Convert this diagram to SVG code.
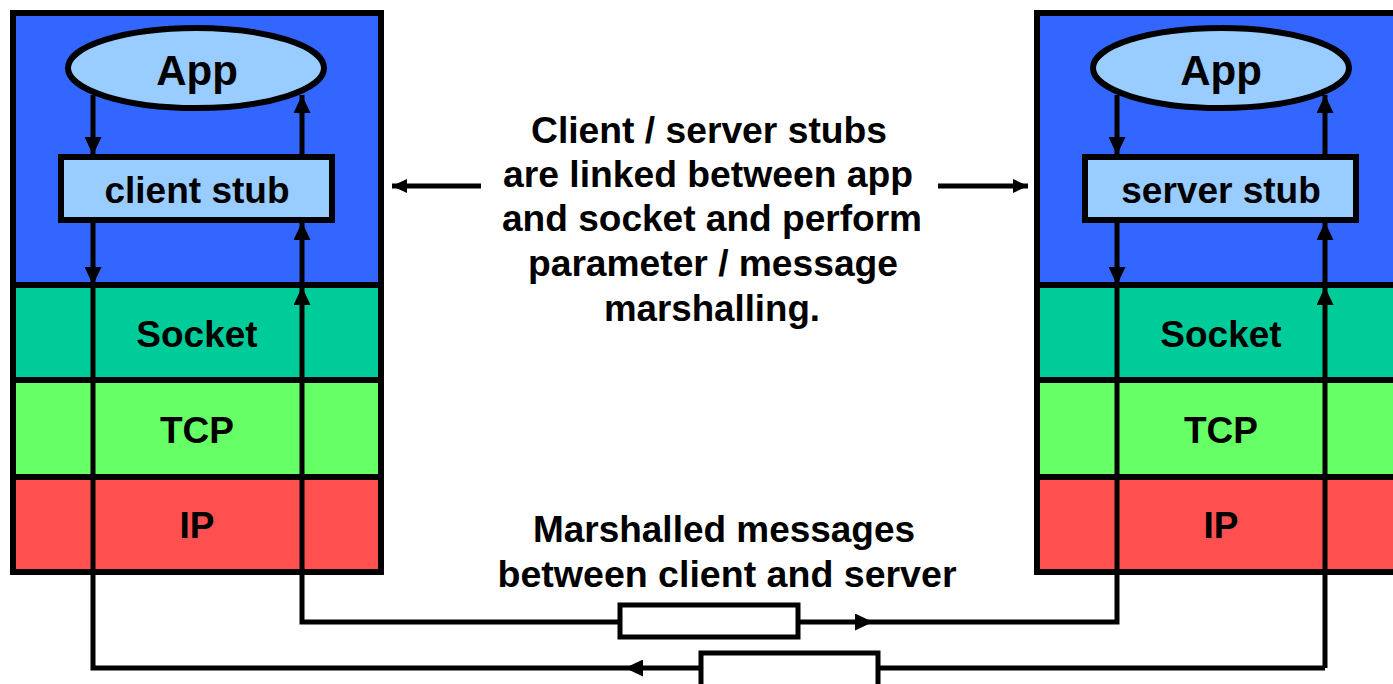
<svg xmlns="http://www.w3.org/2000/svg" width="1393" height="684" viewBox="0 0 1393 684">
  <style>
    .frame { stroke: #000; stroke-width: 6; }
    .box { fill: #99CCFF; stroke: #000; stroke-width: 6; }
    .lbl { font-family: "Liberation Sans", Arial, sans-serif; font-weight: bold; fill: #000; text-anchor: middle; }
    .wire { fill: none; stroke: #000; stroke-width: 5; }
    .pkt { fill: #fff; stroke: #000; stroke-width: 5; }
  </style>
  <defs>
    <marker id="arrow" viewBox="0 0 18 17" refX="18" refY="8.5" markerWidth="18" markerHeight="17" markerUnits="userSpaceOnUse" orient="auto">
      <path d="M0,0 L18,8.5 L0,17 Z" fill="#000"/>
    </marker>
    <marker id="pointer" viewBox="0 0 15 14" refX="15" refY="7" markerWidth="15" markerHeight="14" markerUnits="userSpaceOnUse" orient="auto">
      <path d="M0,0 L15,7 L0,14 Z" fill="#000"/>
    </marker>
  </defs>

  <rect width="1393" height="684" fill="#fff"/>

  <!-- client protocol stack -->
  <g id="client-stack">
    <rect x="13" y="13" width="368" height="272" fill="#3366FF" class="frame"/>
    <rect x="13" y="285" width="368" height="95" fill="#00CC99" class="frame"/>
    <rect x="13" y="380" width="368" height="97" fill="#66FF66" class="frame"/>
    <rect x="13" y="477" width="368" height="95" fill="#FF5050" class="frame"/>
  </g>
  <g id="client-app">
    <ellipse cx="196" cy="68" rx="128" ry="40" class="box"/>
    <text x="197" y="85" font-size="42" class="lbl">App</text>
  </g>
  <g id="client-stub">
    <rect x="61" y="157" width="271" height="63" class="box"/>
    <text x="197" y="203" font-size="37" class="lbl">client stub</text>
  </g>
  <g id="client-socket"><text x="197" y="347" font-size="37" class="lbl">Socket</text></g>
  <g id="client-tcp"><text x="197" y="443" font-size="37" class="lbl">TCP</text></g>
  <g id="client-ip"><text x="197" y="538" font-size="37" class="lbl">IP</text></g>

  <!-- server protocol stack -->
  <g id="server-stack">
    <rect x="1037" y="13" width="368" height="272" fill="#3366FF" class="frame"/>
    <rect x="1037" y="285" width="368" height="95" fill="#00CC99" class="frame"/>
    <rect x="1037" y="380" width="368" height="97" fill="#66FF66" class="frame"/>
    <rect x="1037" y="477" width="368" height="95" fill="#FF5050" class="frame"/>
  </g>
  <g id="server-app">
    <ellipse cx="1221" cy="68" rx="128" ry="40" class="box"/>
    <text x="1221" y="85" font-size="42" class="lbl">App</text>
  </g>
  <g id="server-stub">
    <rect x="1085" y="157" width="271" height="63" class="box"/>
    <text x="1221" y="203" font-size="37" class="lbl">server stub</text>
  </g>
  <g id="server-socket"><text x="1221" y="347" font-size="37" class="lbl">Socket</text></g>
  <g id="server-tcp"><text x="1221" y="443" font-size="37" class="lbl">TCP</text></g>
  <g id="server-ip"><text x="1221" y="538" font-size="37" class="lbl">IP</text></g>

  <!-- explanatory notes -->
  <g id="stub-note" font-size="36" class="lbl">
    <text x="709" y="143" textLength="356" lengthAdjust="spacingAndGlyphs">Client / server stubs</text>
    <text x="708" y="187" textLength="410" lengthAdjust="spacingAndGlyphs">are linked between app</text>
    <text x="712" y="231" textLength="420" lengthAdjust="spacingAndGlyphs">and socket and perform</text>
    <text x="713" y="276" textLength="370" lengthAdjust="spacingAndGlyphs">parameter / message</text>
    <text x="712" y="321" textLength="216" lengthAdjust="spacingAndGlyphs">marshalling.</text>
  </g>
  <g id="wire-note" font-size="36" class="lbl">
    <text x="724" y="542" textLength="382" lengthAdjust="spacingAndGlyphs">Marshalled messages</text>
    <text x="727" y="587" textLength="459" lengthAdjust="spacingAndGlyphs">between client and server</text>
  </g>

  <!-- connectors -->
  <g id="connectors">
    <!-- client side, downward path -->
    <line x1="93" y1="95" x2="93" y2="155" class="wire" marker-end="url(#arrow)"/>
    <line x1="93" y1="221" x2="93" y2="285" class="wire" marker-end="url(#arrow)"/>
    <!-- client side, upward path -->
    <line x1="302" y1="155" x2="302" y2="95" class="wire" marker-end="url(#arrow)"/>
    <line x1="302" y1="285" x2="302" y2="222" class="wire" marker-end="url(#arrow)"/>
    <line x1="302" y1="620" x2="302" y2="287" class="wire" marker-end="url(#arrow)"/>
    <!-- server side, downward path -->
    <line x1="1117" y1="95" x2="1117" y2="155" class="wire" marker-end="url(#arrow)"/>
    <line x1="1117" y1="221" x2="1117" y2="285" class="wire" marker-end="url(#arrow)"/>
    <!-- server side, upward path -->
    <line x1="1325" y1="155" x2="1325" y2="95" class="wire" marker-end="url(#arrow)"/>
    <line x1="1325" y1="285" x2="1325" y2="222" class="wire" marker-end="url(#arrow)"/>
    <line x1="1325" y1="668" x2="1325" y2="287" class="wire" marker-end="url(#arrow)"/>

    <!-- request: client -> server -->
    <path d="M302,620 L302,622 L873,622" class="wire" marker-end="url(#arrow)"/>
    <path d="M873,622 L1117,622 L1117,285" class="wire"/>
    <rect x="620" y="605" width="178" height="32" class="pkt"/>

    <!-- reply: server -> client -->
    <path d="M1325,668 L625,668" class="wire" marker-end="url(#arrow)"/>
    <path d="M625,668 L93,668 L93,285" class="wire"/>
    <rect x="701" y="653" width="177" height="40" class="pkt"/>

    <!-- note pointers -->
    <line x1="481" y1="186" x2="392" y2="186" class="wire" stroke-width="3" marker-end="url(#pointer)"/>
    <line x1="938" y1="186" x2="1028" y2="186" class="wire" stroke-width="3" marker-end="url(#pointer)"/>
  </g>
</svg>
